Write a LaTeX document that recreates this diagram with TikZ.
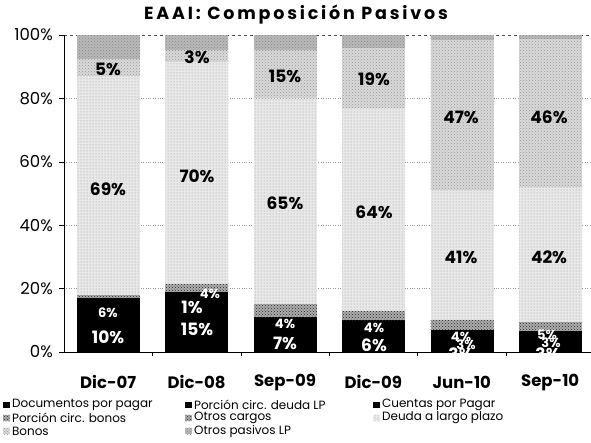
\documentclass[tikz,border=0pt]{standalone}
\usepackage{fontspec}
\setmainfont{Poppins}
\newfontfamily\titlefont[LetterSpace=16]{Poppins}
\usetikzlibrary{patterns,positioning}

\begin{document}
\begin{tikzpicture}[
    x=1pt, y=1pt,
    every node/.style={inner sep=0pt},
    blk/.style={fill=black},
    pbonos/.style={fill=gray!65, postaction={pattern=crosshatch dots, pattern color=black!85}},
    deuda/.style={fill=gray!18, postaction={pattern=dots, pattern color=gray!85}},
    bonos/.style={fill=gray!30, postaction={pattern=crosshatch dots, pattern color=gray!80}},
    opas/.style={fill=gray!55, postaction={pattern=crosshatch dots, pattern color=gray!95}},
    grid/.style={dotted, gray!80},
    pct/.style={font=\bfseries\fontsize{17}{17}\selectfont},
    inpct/.style={pct, text=white},
    smpct/.style={font=\bfseries\fontsize{13}{13}\selectfont, text=white},
    axlbl/.style={font=\fontsize{16.5}{16.5}\selectfont},
    catlbl/.style={font=\bfseries\fontsize{16.5}{16.5}\selectfont},
    leg/.style={font=\fontsize{12}{12}\selectfont, anchor=west},
    legbox/.style={minimum size=6.5pt, anchor=west}
]
\useasboundingbox (0,0) rectangle (591,442);

% Title
\node[font=\titlefont\bfseries\fontsize{17.5}{17.5}\selectfont] (title) at (296,427) {EAAI: Composición Pasivos};

\begin{scope}[shift={(64,90)}, y=3.17pt]
% Grid
\foreach \p in {20,40,60,80}
    \draw[grid] (0,\p) -- (527,\p);
\draw[dashed, gray!60!black] (0,100) -- (527,100);

% Bars: black / circ. bonos / deuda LP / bonos / otros pasivos
\foreach \i/\a/\b/\c/\d in {0/17/18/87/92.5, 1/19/21.5/91.5/95.2, 2/11/15/80/95.2,
                            3/10/13/77/96, 4/7/10/51/98.5, 5/6.5/9.5/52/98.8}
{
    \pgfmathsetmacro\xl{88.4*\i+13}
    \pgfmathsetmacro\xr{88.4*\i+76}
    \fill[blk] (\xl,0) rectangle (\xr,\a);
    \path[pbonos] (\xl,\a) rectangle (\xr,\b);
    \path[deuda] (\xl,\b) rectangle (\xr,\c);
    \path[bonos] (\xl,\c) rectangle (\xr,\d);
    \path[opas] (\xl,\d) rectangle (\xr,100);
}

% Axes
\draw (0,0) -- (0,100);
\foreach \p in {0,20,...,100}
{
    \draw (-5,\p) -- (0,\p);
    \node[axlbl, anchor=east] (tick\p) at (-11,\p) {\p\%};
}
\draw (-5,0) -- (527,0);
\foreach \k in {1,...,5}
    \draw (88.4*\k,0) -- (88.4*\k,-1.3);

% Categories
\foreach \t [count=\n from 0] in {Dic-07,Dic-08,Sep-09,Dic-09,Jun-10,Sep-10}
    \node[catlbl] (cat\n) at (44.2+88.4*\n,-9.5) {\t};

% Values
\begin{scope}
\clip (0,0) rectangle (527,100);
\foreach \x/\p/\t/\s [count=\n] in {
    44/4.8/10/inpct, 44/12.3/6/smpct, 44/51.5/69/pct, 44/89/5/pct,
    133/7/15/inpct, 128/14.2/1/inpct, 146/18.3/4/smpct, 133/55.5/70/pct, 133/93/3/pct,
    221/2.6/7/inpct, 221/8.8/4/smpct, 221/47/65/pct, 221/87/15/pct,
    310/2/6/inpct, 310/7.5/4/smpct, 310/44/64/pct, 310/86/19/pct,
    397/-0.8/3/inpct, 402/2.2/3/smpct, 397/4.7/4/smpct, 397/30/41/pct, 397/74/47/pct,
    484/-0.8/3/inpct, 487/2.8/3/smpct, 483/5.4/5/smpct, 485/30/42/pct, 485/74/46/pct}
    \node[\s] (val\n) at (\x,\p) {\t\%};
\end{scope}
\end{scope}

% Legend
\node[legbox, fill=black] (m1) at (3,37) {};
\node[leg, right=2pt of m1] (g1) {Documentos por pagar};
\node[legbox, pbonos] (m4) at (3,24) {};
\node[leg, right=2pt of m4] (g4) {Porción circ. bonos};
\node[legbox, bonos] (m7) at (3,11) {};
\node[leg, right=2pt of m7] (g7) {Bonos};
\node[legbox, fill=black] (m2) at (185,37) {};
\node[leg, right=2pt of m2] (g2) {Porción circ. deuda LP};
\node[legbox, pbonos] (m5) at (185,24) {};
\node[leg, right=2pt of m5] (g5) {Otros cargos};
\node[legbox, opas] (m8) at (185,11) {};
\node[leg, right=2pt of m8] (g8) {Otros pasivos LP};
\node[legbox, fill=black] (m3) at (373,37) {};
\node[leg, right=2pt of m3] (g3) {Cuentas por Pagar};
\node[legbox, deuda] (m6) at (373,24) {};
\node[leg, right=2pt of m6] (g6) {Deuda a largo plazo};

\end{tikzpicture}
\end{document}
